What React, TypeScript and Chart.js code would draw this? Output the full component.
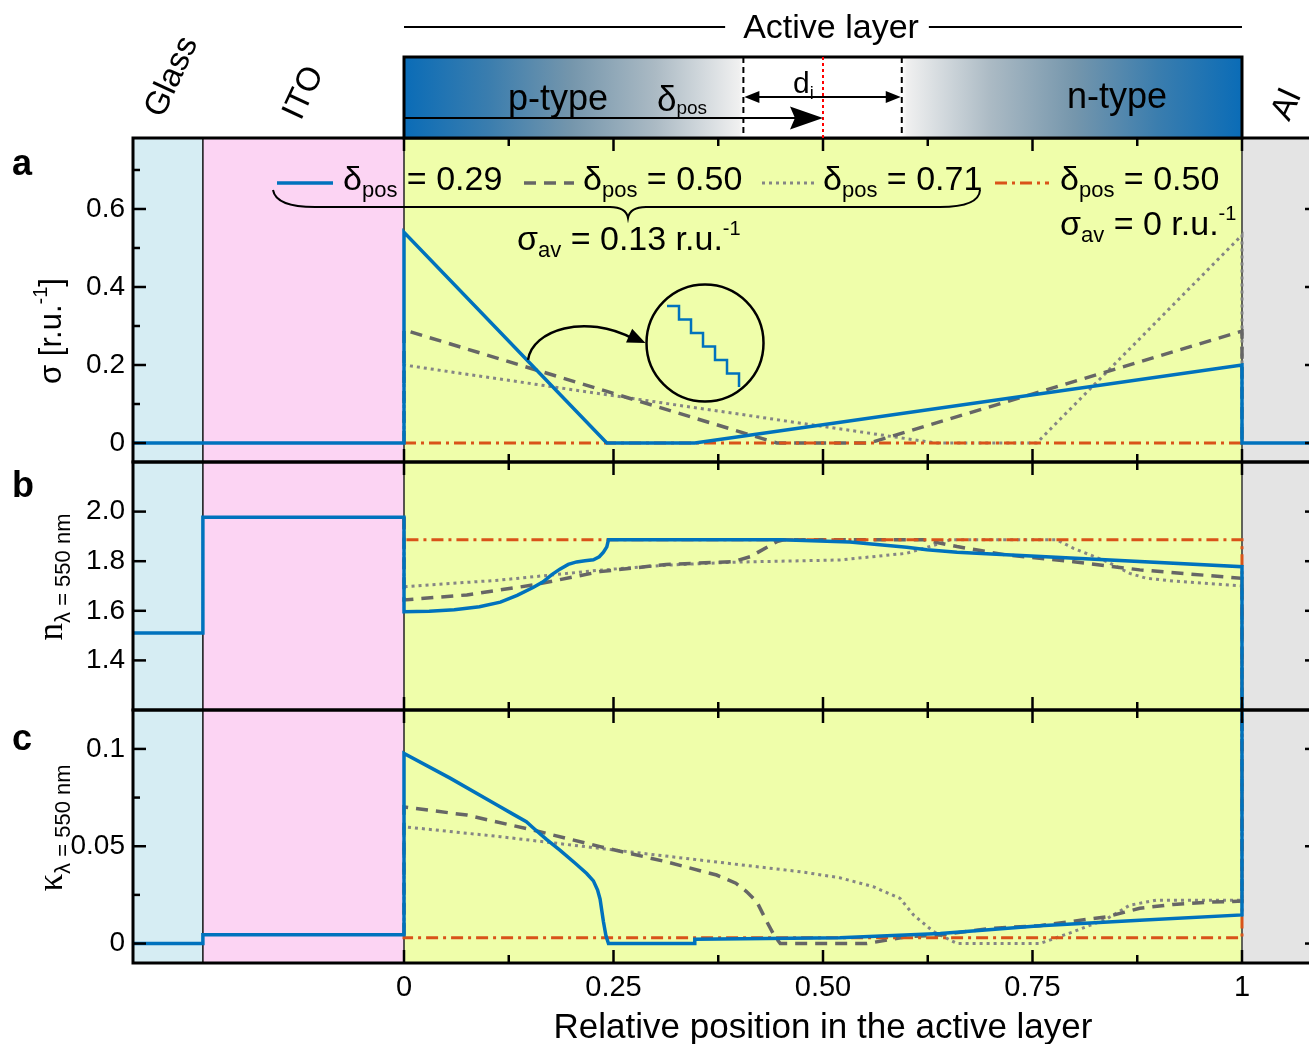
import { useEffect, useRef } from 'react';
import { Chart, registerables } from 'chart.js';

Chart.register(...registerables);

const FONT = '"Liberation Sans", Arial, Helvetica, sans-serif';
const SERIF = '"Liberation Serif", "Times New Roman", serif';

// ---- layer stack (relative position in the active layer) ----
const glassStart = -0.3234;
const itoStart = -0.24;
const activeStart = 0;
const activeEnd = 1;
const alEnd = 1.0907;
const layerColors = ['#D6EDF3', '#FCD4F3', '#EFFEAA', '#E4E4E4'];
const layerLabels = ['Glass', 'ITO', 'Al'];

// ---- ticks ----
const xTickValues = [0, 0.25, 0.5, 0.75, 1];
const xTickLabels = ['0', '0.25', '0.50', '0.75', '1'];
const xMinorTicks = [0.125, 0.375, 0.625, 0.875];
const sigmaTickValues = [0, 0.2, 0.4, 0.6];
const sigmaTickLabels = ['0', '0.2', '0.4', '0.6'];
const sigmaMinorTicks = [0.1, 0.3, 0.5, 0.7];
const nTickValues = [1.4, 1.6, 1.8, 2.0];
const nTickLabels = ['1.4', '1.6', '1.8', '2.0'];
const nMinorTicks: number[] = [];
const kTickValues = [0, 0.05, 0.1];
const kTickLabels = ['0', '0.05', '0.1'];
const kMinorTicks = [0.025, 0.075];

// ---- legend ----
const deltaPosLabels = ['0.29', '0.50', '0.71', '0.50'];
const sigmaAvLabels = ['0.13', '0'];

type Pt = [number, number];

// ---- panel a: sigma ----
const sigma029: Pt[] = [[-0.3234, 0], [0, 0], [0, 0.54], [0.242, 0], [0.347, 0], [1, 0.2], [1, 0], [1.0907, 0]];
const sigma050: Pt[] = [[0, 0], [0, 0.29], [0.445, 0], [0.555, 0], [1, 0.287], [1, 0]];
const sigma071: Pt[] = [[0, 0], [0, 0.2], [0.635, 0], [0.755, 0], [1, 0.533], [1, 0]];
const sigmaZero: Pt[] = [[0, 0], [1, 0]];

// ---- panel b: n (550 nm) ----
const n029: Pt[] = [[-0.3234, 1.51], [-0.24, 1.51], [-0.24, 1.977], [0, 1.977], [0, 1.596], [0.03, 1.598], [0.06, 1.604],
  [0.09, 1.616], [0.115, 1.635], [0.135, 1.662], [0.154, 1.694], [0.166, 1.717], [0.176, 1.745], [0.186, 1.768],
  [0.196, 1.787], [0.206, 1.797], [0.216, 1.802], [0.226, 1.806], [0.233, 1.818], [0.238, 1.836], [0.242, 1.858],
  [0.244, 1.886], [0.45, 1.886], [0.532, 1.877], [0.6, 1.856], [0.624, 1.846], [0.66, 1.836], [1, 1.778], [1, 0.96], [1.0907, 0.96]];
const n050: Pt[] = [[0, 1.977], [0, 1.644], [0.075, 1.664], [0.154, 1.704], [0.234, 1.758], [0.313, 1.787], [0.393, 1.798],
  [0.413, 1.818], [0.445, 1.879], [0.453, 1.886], [0.62, 1.886], [0.66, 1.859], [0.719, 1.825], [0.799, 1.798], [0.878, 1.765],
  [1, 1.731], [1, 0.96]];
const n071: Pt[] = [[0, 1.977], [0, 1.697], [0.115, 1.724], [0.234, 1.764], [0.313, 1.784], [0.393, 1.796], [0.52, 1.805],
  [0.6, 1.832], [0.64, 1.872], [0.652, 1.886], [0.779, 1.886], [0.799, 1.852], [0.839, 1.798], [0.866, 1.751], [0.886, 1.731],
  [0.918, 1.72], [1, 1.70], [1, 0.96]];
const nZero: Pt[] = [[0, 1.977], [0, 1.886], [1, 1.886], [1, 0.96]];

// ---- panel c: kappa (550 nm) ----
const k029: Pt[] = [[-0.3234, 0], [-0.24, 0], [-0.24, 0.0045], [0, 0.0045], [0, 0.0977], [0.055, 0.085], [0.111, 0.0712],
  [0.13, 0.0665], [0.146, 0.0626], [0.154, 0.0595], [0.17, 0.0535], [0.186, 0.048], [0.205, 0.041], [0.218, 0.036],
  [0.226, 0.0322], [0.231, 0.0275], [0.234, 0.0228], [0.236, 0.017], [0.238, 0.0112], [0.241, 0.004], [0.244, 0], [0.347, 0],
  [0.347, 0.0022], [0.52, 0.003], [0.64, 0.0052], [0.759, 0.0092], [0.878, 0.012], [1, 0.0147], [1, 6.69], [1.0907, 6.69]];
const k050: Pt[] = [[0, 0.0045], [0, 0.0702], [0.075, 0.066], [0.154, 0.0583], [0.234, 0.0498], [0.313, 0.042], [0.373, 0.0352],
  [0.396, 0.031], [0.409, 0.0266], [0.421, 0.0215], [0.433, 0.0112], [0.442, 0.004], [0.449, 0], [0.552, 0], [0.6, 0.0035], [0.64, 0.0044], [0.7, 0.0078],
  [0.759, 0.0092], [0.839, 0.0138], [0.878, 0.0181], [0.918, 0.0201], [0.958, 0.0212], [1, 0.0218], [1, 6.69]];
const k071: Pt[] = [[0, 0.0045], [0, 0.06], [0.115, 0.0549], [0.234, 0.0489], [0.353, 0.0429], [0.473, 0.0369], [0.52, 0.0338],
  [0.56, 0.0292], [0.592, 0.0232], [0.608, 0.0147], [0.632, 0.0061], [0.66, 0], [0.759, 0], [0.799, 0.0061], [0.839, 0.0128],
  [0.866, 0.0197], [0.898, 0.0223], [1, 0.0223], [1, 6.69]];
const kZero: Pt[] = [[0, 0.0045], [0, 0.003], [1, 0.003], [1, 6.69]];

const BLUE = '#0072BD';
const RED = '#D95319';
const GRAY_DASH = '#666666';
const GRAY_DOT = '#858585';
const DASH = [12, 8];
const DOT = [3, 4];
const DASHDOT = [12, 5, 3, 5];

function fontStr(size: number, family = FONT, weight = 'normal') {
  return `${weight} ${size}px ${family}`;
}

interface Part { t: string; size: number; dy?: number; family?: string; weight?: string }

function drawRich(ctx: CanvasRenderingContext2D, x: number, y: number, parts: Part[], align: 'left' | 'center' | 'right' = 'left') {
  let w = 0;
  for (const p of parts) {
    ctx.font = fontStr(p.size, p.family, p.weight);
    w += ctx.measureText(p.t).width;
  }
  let cx = align === 'center' ? x - w / 2 : align === 'right' ? x - w : x;
  ctx.textAlign = 'left';
  ctx.textBaseline = 'alphabetic';
  for (const p of parts) {
    ctx.font = fontStr(p.size, p.family, p.weight);
    ctx.fillText(p.t, cx, y + (p.dy || 0));
    cx += ctx.measureText(p.t).width;
  }
  return w;
}

function arrowHead(ctx: CanvasRenderingContext2D, tx: number, ty: number, dx: number, dy: number, len: number, hw: number, notch = 0) {
  const m = Math.hypot(dx, dy);
  const ux = dx / m, uy = dy / m;
  const bx = tx - ux * len, by = ty - uy * len;
  ctx.beginPath();
  ctx.moveTo(tx, ty);
  ctx.lineTo(bx - uy * hw, by + ux * hw);
  ctx.lineTo(bx + ux * len * notch, by + uy * len * notch);
  ctx.lineTo(bx + uy * hw, by - ux * hw);
  ctx.closePath();
  ctx.fill();
}

function line(ctx: CanvasRenderingContext2D, x1: number, y1: number, x2: number, y2: number) {
  ctx.beginPath();
  ctx.moveTo(x1, y1);
  ctx.lineTo(x2, y2);
  ctx.stroke();
}

const panelIds = ['ya', 'yb', 'yc'];
const panelTicks = [
  { major: sigmaTickValues, minor: sigmaMinorTicks },
  { major: nTickValues, minor: nMinorTicks },
  { major: kTickValues, minor: kMinorTicks },
];

const decorPlugin = {
  id: 'decor',
  beforeDraw(chart: any) {
    const { ctx, width, height } = chart;
    ctx.save();
    ctx.fillStyle = '#ffffff';
    ctx.fillRect(0, 0, width, height);
    ctx.restore();
  },
  beforeDatasetsDraw(chart: any) {
    const ctx: CanvasRenderingContext2D = chart.ctx;
    const xs = chart.scales.x;
    const panels = panelIds.map((id) => chart.scales[id]);
    const edges = [glassStart, itoStart, activeStart, activeEnd, alEnd];
    ctx.save();
    for (const s of panels) {
      for (let i = 0; i < 4; i++) {
        const a = xs.getPixelForValue(edges[i]);
        const b = xs.getPixelForValue(edges[i + 1]);
        ctx.fillStyle = layerColors[i];
        ctx.fillRect(a, s.top, b - a, s.bottom - s.top);
      }
    }
    const top = panels[0].top, bottom = panels[2].bottom;
    ctx.lineWidth = 1.5;
    const bounds: [number, string][] = [[itoStart, '#111'], [activeStart, '#222'], [activeEnd, '#333']];
    for (const [v, c] of bounds) {
      const p = xs.getPixelForValue(v);
      ctx.strokeStyle = c;
      line(ctx, p, top, p, bottom);
    }
    ctx.restore();
  },
  beforeDatasetDraw(chart: any, args: any) {
    const ctx: CanvasRenderingContext2D = chart.ctx;
    const xs = args.meta.xScale, ys = args.meta.yScale;
    ctx.save();
    ctx.beginPath();
    ctx.rect(xs.left, ys.top, xs.right - xs.left, ys.bottom - ys.top);
    ctx.clip();
  },
  afterDatasetDraw(chart: any) {
    chart.ctx.restore();
  },
  afterDatasetsDraw(chart: any) {
    const ctx: CanvasRenderingContext2D = chart.ctx;
    const xs = chart.scales.x;
    const panels = panelIds.map((id) => chart.scales[id]);
    const X = (v: number) => xs.getPixelForValue(v);
    ctx.save();
    ctx.fillStyle = '#000';
    ctx.strokeStyle = '#000';

    // ---- ticks ----
    ctx.lineWidth = 2.5;
    const xt: [number, number][] = [...xTickValues.map((v) => [v, 13] as [number, number]), ...xMinorTicks.map((v) => [v, 8] as [number, number])];
    panels.forEach((s, i) => {
      for (const [v, len] of xt) {
        const p = X(v);
        line(ctx, p, s.top, p, s.top + len);
        line(ctx, p, s.bottom, p, s.bottom - len);
      }
      const yt: [number, number][] = [...panelTicks[i].major.map((v) => [v, 13] as [number, number]), ...panelTicks[i].minor.map((v) => [v, 7] as [number, number])];
      for (const [v, len] of yt) {
        const p = s.getPixelForValue(v);
        line(ctx, s.right, p, s.right + len, p);
        line(ctx, xs.right, p, xs.right - len, p);
      }
    });
    // ---- frames ----
    ctx.lineWidth = 3;
    for (const s of panels) {
      ctx.strokeRect(xs.left, s.top, xs.right - xs.left, s.bottom - s.top);
    }

    // ---- panel a legend ----
    const ya = panels[0];
    const legY = 183;
    const samples: [number, number, string, number[], number][] = [
      [277, 333, BLUE, [], 3.5],
      [524, 574, GRAY_DASH, DASH, 3.5],
      [762, 814, GRAY_DOT, DOT, 3],
      [995, 1049, RED, DASHDOT, 3],
    ];
    const textX = [343, 583, 823, 1060];
    samples.forEach(([a, b, c, d, w], i) => {
      ctx.save();
      ctx.strokeStyle = c;
      ctx.lineWidth = w;
      ctx.setLineDash(d);
      line(ctx, a, legY, b, legY);
      ctx.restore();
      drawRich(ctx, textX[i], 190, [
        { t: 'δ', size: 34 },
        { t: 'pos', size: 22, dy: 7 },
        { t: ' = ' + deltaPosLabels[i], size: 34 },
      ]);
    });
    drawRich(ctx, 1060, 235, [
      { t: 'σ', size: 34 },
      { t: 'av', size: 22, dy: 7 },
      { t: ' = ' + sigmaAvLabels[1] + ' r.u.', size: 34 },
      { t: '-1', size: 20, dy: -15 },
    ]);
    drawRich(ctx, 517, 250, [
      { t: 'σ', size: 34 },
      { t: 'av', size: 22, dy: 7 },
      { t: ' = ' + sigmaAvLabels[0] + ' r.u.', size: 34 },
      { t: '-1', size: 20, dy: -15 },
    ]);
    // brace
    ctx.lineWidth = 2;
    ctx.beginPath();
    ctx.moveTo(273, 190);
    ctx.quadraticCurveTo(276, 207, 315, 207);
    ctx.lineTo(610, 207);
    ctx.quadraticCurveTo(626, 207, 628, 218);
    ctx.quadraticCurveTo(630, 207, 646, 207);
    ctx.lineTo(940, 207);
    ctx.quadraticCurveTo(979, 207, 980, 190);
    ctx.stroke();

    // inset circle with staircase
    const cx = X(0.3592), cy = ya.getPixelForValue(0.2564), r = 58.5;
    ctx.lineWidth = 2.5;
    ctx.beginPath();
    ctx.arc(cx, cy, r, 0, Math.PI * 2);
    ctx.stroke();
    ctx.save();
    ctx.strokeStyle = BLUE;
    ctx.lineWidth = 2.5;
    ctx.beginPath();
    let sx = cx - 38, sy = cy - 37;
    ctx.moveTo(sx, sy);
    for (let k = 0; k < 6; k++) {
      sx += 12;
      ctx.lineTo(sx, sy);
      sy += 13.5;
      ctx.lineTo(sx, sy);
    }
    ctx.stroke();
    ctx.restore();
    // curved arrow from the line to the inset
    const ax = X(0.148), ay = ya.getPixelForValue(0.213);
    const ex = cx - r - 1, ey = cy;
    ctx.lineWidth = 2.5;
    ctx.beginPath();
    ctx.moveTo(ax, ay);
    ctx.bezierCurveTo(ax + 4, ay - 30, ex - 60, ey - 30, ex - 12, ey - 4);
    ctx.stroke();
    arrowHead(ctx, ex, ey, 1, 0.45, 18, 7.5);

    // ---- panel letters ----
    ctx.fillStyle = '#000';
    const letters = ['a', 'b', 'c'];
    const letterY = [175, 497, 750];
    letters.forEach((l, i) => drawRich(ctx, 12, letterY[i], [{ t: l, size: 36, weight: 'bold' }]));

    // ---- y-axis titles ----
    ctx.save();
    ctx.translate(61, 331);
    ctx.rotate(-Math.PI / 2);
    drawRich(ctx, 0, 0, [
      { t: 'σ [r.u.', size: 31 },
      { t: '-1', size: 20, dy: -14 },
      { t: ']', size: 31 },
    ], 'center');
    ctx.restore();
    ctx.save();
    ctx.translate(62, 577);
    ctx.rotate(-Math.PI / 2);
    drawRich(ctx, 0, 0, [
      { t: 'n', size: 35, family: SERIF },
      { t: 'λ = 550 nm', size: 22, dy: 8 },
    ], 'center');
    ctx.restore();
    ctx.save();
    ctx.translate(62, 828);
    ctx.rotate(-Math.PI / 2);
    drawRich(ctx, 0, 0, [
      { t: 'κ', size: 35, family: SERIF },
      { t: 'λ = 550 nm', size: 22, dy: 8 },
    ], 'center');
    ctx.restore();

    // ---- x-axis title ----
    drawRich(ctx, (X(0) + X(1)) / 2, 1038, [{ t: 'Relative position in the active layer', size: 35 }], 'center');

    // ---- header ----
    const x0 = X(0), x1 = X(1), xh = X(0.5), xl = X(0.405), xr = X(0.594);
    const barTop = 57, barBot = ya.top;
    const g = ctx.createLinearGradient(x0, 0, x1, 0);
    const stops: [number, string][] = [
      [0, '#0a6cb7'], [0.1, '#3a7dae'], [0.2, '#7596ac'], [0.3, '#abbac4'], [0.4, '#f0f0f0'], [0.405, '#ffffff'],
      [0.594, '#ffffff'], [0.6, '#f0f0f0'], [0.7, '#abbac4'], [0.8, '#7596ac'], [0.9, '#3a7dae'], [1, '#0a6cb7'],
    ];
    for (const [o, c] of stops) g.addColorStop(o, c);
    ctx.fillStyle = g;
    ctx.fillRect(x0, barTop, x1 - x0, barBot - barTop);
    ctx.lineWidth = 3;
    ctx.strokeStyle = '#000';
    ctx.strokeRect(x0, barTop, x1 - x0, barBot - barTop);
    ctx.lineWidth = 2;
    ctx.save();
    ctx.setLineDash([6, 4]);
    line(ctx, xl, barTop, xl, barBot);
    line(ctx, xr, barTop, xr, barBot);
    ctx.strokeStyle = '#ff0000';
    ctx.setLineDash([3, 3]);
    line(ctx, xh, barTop, xh, barBot);
    ctx.restore();
    ctx.fillStyle = '#000';
    // d_i double arrow
    line(ctx, xl + 8, 97, xr - 8, 97);
    arrowHead(ctx, xl + 1, 97, -1, 0, 15, 6);
    arrowHead(ctx, xr - 1, 97, 1, 0, 15, 6);
    drawRich(ctx, 793, 93, [{ t: 'd', size: 30 }, { t: 'i', size: 18, dy: 6 }]);
    // delta_pos arrow
    line(ctx, x0, 118, xh - 25, 118);
    arrowHead(ctx, xh, 118, 1, 0, 33, 11.5, 0.15);
    drawRich(ctx, 508, 110, [{ t: 'p-type', size: 36 }]);
    drawRich(ctx, 657, 111, [{ t: 'δ', size: 35 }, { t: 'pos', size: 19, dy: 3 }]);
    drawRich(ctx, 1067, 108, [{ t: 'n-type', size: 36 }]);
    // Active layer label
    ctx.font = fontStr(34);
    const label = 'Active layer';
    const lw = ctx.measureText(label).width;
    const lc = 831;
    drawRich(ctx, lc, 38, [{ t: label, size: 34 }], 'center');
    ctx.lineWidth = 2;
    line(ctx, x0, 27, lc - lw / 2 - 18, 27);
    line(ctx, lc + lw / 2 + 10, 27, x1, 27);
    // rotated layer names
    const namePos: [number, number][] = [[172, 77], [304, 93], [1287, 105]];
    layerLabels.forEach((t, i) => {
      ctx.save();
      ctx.translate(namePos[i][0], namePos[i][1]);
      ctx.rotate((-65 * Math.PI) / 180);
      ctx.font = fontStr(33);
      ctx.textAlign = 'center';
      ctx.textBaseline = 'middle';
      ctx.fillText(t, 0, 0);
      ctx.restore();
    });
    ctx.restore();
  },
};

function yScale(min: number, max: number, values: number[], labels: string[], weight: number, stackWeight: number) {
  return {
    type: 'linear',
    position: 'left',
    stack: 'panels',
    stackWeight,
    weight,
    min,
    max,
    grid: { display: false, drawTicks: false },
    border: { display: false },
    ticks: {
      color: '#000',
      font: { family: FONT, size: 28 },
      padding: 8,
      autoSkip: false,
      callback: (_v: any, i: number) => labels[i],
    },
    afterBuildTicks: (s: any) => {
      s.ticks = values.map((v) => ({ value: v }));
    },
    afterFit: (s: any) => {
      s.width = 133;
    },
  };
}

function ds(data: Pt[], yAxisID: string, color: string, width: number, dash: number[]) {
  return {
    data: data.map(([x, y]) => ({ x, y })),
    xAxisID: 'x',
    yAxisID,
    borderColor: color,
    backgroundColor: color,
    borderWidth: width,
    borderDash: dash,
    pointRadius: 0,
    fill: false,
    tension: 0,
    showLine: true,
  };
}

export default function App() {
  const ref = useRef<HTMLCanvasElement>(null);
  useEffect(() => {
    const chart = new Chart(ref.current as HTMLCanvasElement, {
      type: 'line',
      data: {
        datasets: [
          ds(sigma029, 'ya', BLUE, 3.5, []),
          ds(n029, 'yb', BLUE, 3.5, []),
          ds(k029, 'yc', BLUE, 3.5, []),
          ds(sigmaZero, 'ya', RED, 3, DASHDOT),
          ds(nZero, 'yb', RED, 3, DASHDOT),
          ds(kZero, 'yc', RED, 3, DASHDOT),
          ds(sigma050, 'ya', GRAY_DASH, 3.5, DASH),
          ds(n050, 'yb', GRAY_DASH, 3.5, DASH),
          ds(k050, 'yc', GRAY_DASH, 3.5, DASH),
          ds(sigma071, 'ya', GRAY_DOT, 3, DOT),
          ds(n071, 'yb', GRAY_DOT, 3, DOT),
          ds(k071, 'yc', GRAY_DOT, 3, DOT),
        ] as any,
      },
      options: {
        responsive: false,
        animation: false,
        devicePixelRatio: 1,
        events: [],
        layout: { padding: { left: 0, right: 2, top: 138, bottom: 0 } },
        plugins: { legend: { display: false }, tooltip: { enabled: false } },
        scales: {
          x: {
            type: 'linear',
            position: 'bottom',
            min: glassStart,
            max: alEnd,
            grid: { display: false, drawTicks: false },
            border: { display: false },
            ticks: {
              color: '#000',
              font: { family: FONT, size: 29 },
              padding: 8,
              autoSkip: false,
              maxRotation: 0,
              callback: (_v: any, i: number) => xTickLabels[i],
            },
            afterBuildTicks: (s: any) => {
              s.ticks = xTickValues.map((v) => ({ value: v }));
            },
            afterFit: (s: any) => {
              s.height = 81;
            },
          },
          ya: yScale(-0.0487, 0.782, sigmaTickValues, sigmaTickLabels, 3, 324),
          yb: yScale(1.2, 2.2, nTickValues, nTickLabels, 2, 248),
          yc: yScale(-0.01, 0.12, kTickValues, kTickLabels, 1, 253),
        } as any,
      },
      plugins: [decorPlugin],
    });
    return () => chart.destroy();
  }, []);
  return (
    <div style={{ position: 'absolute', left: 0, top: 0, width: 1309, height: 1044, overflow: 'hidden', background: '#fff' }}>
      <canvas ref={ref} width={1320} height={1044} style={{ display: 'block', width: 1320, height: 1044 }} />
    </div>
  );
}
